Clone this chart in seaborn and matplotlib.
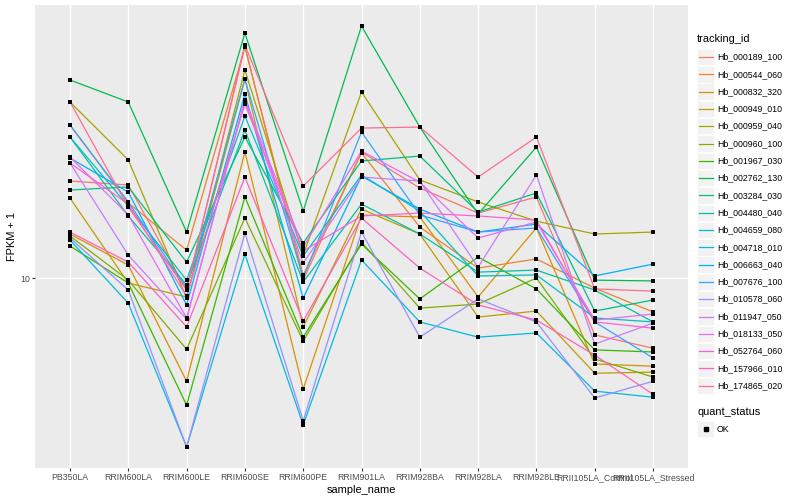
import numpy as np
import pandas as pd
import matplotlib
matplotlib.use("Agg")
import matplotlib.pyplot as plt
import seaborn as sns
from matplotlib.patches import Rectangle
from matplotlib.ticker import NullLocator

# samples on the x axis
samples = ["PB350LA", "RRIM600LA", "RRIM600LE", "RRIM600SE", "RRIM600PE",
           "RRIM901LA", "RRIM928BA", "RRIM928LA", "RRIM928LE",
           "RRII105LA_Control", "RRII105LA_Stressed"]

genes = ["Hb_000189_100", "Hb_000544_060", "Hb_000832_320", "Hb_000949_010",
         "Hb_000959_040", "Hb_000960_100", "Hb_001967_030", "Hb_002762_130",
         "Hb_003284_030", "Hb_004480_040", "Hb_004659_080", "Hb_004718_010",
         "Hb_006663_040", "Hb_007676_100", "Hb_010578_060", "Hb_011947_050",
         "Hb_018133_050", "Hb_052764_060", "Hb_157966_010", "Hb_174865_020"]

# FPKM + 1, one list per gene (same order as samples)
hb_000189_100 = [14.51, 14.29, 9.55, 24.36, 9.92, 16.22, 14.13, 12.83, 13.65, 8.04, 7.64]
hb_000544_060 = [17.99, 13.34, 11.13, 24.27, 10.12, 16.16, 12.16, 10.39, 10.76, 9.62, 8.78]
hb_000832_320 = [11.84, 10.51, 6.73, 16.22, 6.53, 12.74, 12.64, 9.30, 12.12, 7.19, 7.13]
hb_000949_010 = [13.59, 9.81, 9.30, 21.46, 8.29, 13.03, 11.84, 8.61, 8.81, 6.94, 6.97]
hb_000959_040 = [19.65, 15.73, 9.26, 22.22, 10.92, 20.42, 14.57, 13.39, 12.44, 11.84, 11.93]
hb_000960_100 = [11.75, 9.92, 7.61, 12.59, 7.85, 11.48, 8.91, 9.05, 10.00, 7.33, 6.84]
hb_001967_030 = [11.31, 9.81, 6.14, 13.65, 7.97, 11.39, 9.23, 10.84, 9.59, 7.59, 7.53]
hb_002762_130 = [21.38, 19.65, 11.93, 25.60, 12.93, 26.30, 17.85, 12.78, 16.53, 9.92, 9.89]
hb_003284_030 = [14.02, 14.18, 10.63, 17.18, 11.44, 15.67, 15.97, 12.88, 13.86, 8.81, 9.19]
hb_004480_040 = [17.18, 12.69, 9.74, 17.65, 9.85, 13.28, 11.84, 10.23, 10.31, 9.55, 8.45]
hb_004659_080 = [17.18, 13.18, 9.92, 18.62, 10.88, 14.85, 12.93, 10.08, 10.12, 8.58, 8.45]
hb_004718_010 = [11.57, 9.08, 5.23, 10.96, 5.69, 10.72, 8.45, 7.97, 8.10, 6.48, 6.33]
hb_006663_040 = [15.85, 13.91, 9.02, 20.26, 9.26, 14.79, 13.03, 11.93, 12.30, 10.08, 10.55]
hb_007676_100 = [17.99, 13.39, 9.62, 21.46, 10.00, 17.51, 12.74, 11.93, 12.12, 8.45, 7.36]
hb_010578_060 = [11.66, 9.55, 5.23, 11.89, 5.78, 11.93, 7.97, 9.23, 8.45, 6.31, 6.73]
hb_011947_050 = [15.55, 10.92, 8.54, 19.80, 10.59, 14.73, 14.51, 10.43, 14.85, 7.76, 8.41]
hb_018133_050 = [15.91, 12.74, 8.58, 19.80, 11.26, 16.28, 14.45, 11.66, 12.40, 8.51, 8.71]
hb_052764_060 = [15.55, 13.28, 9.33, 19.50, 11.09, 12.69, 12.83, 12.69, 12.49, 8.45, 8.25]
hb_157966_010 = [11.93, 10.63, 8.29, 14.73, 8.48, 12.59, 10.39, 9.02, 8.51, 7.44, 6.40]
hb_174865_020 = [19.65, 13.13, 9.55, 24.45, 14.23, 17.78, 17.85, 14.73, 17.18, 9.59, 9.51]

values = [hb_000189_100, hb_000544_060, hb_000832_320, hb_000949_010, hb_000959_040,
          hb_000960_100, hb_001967_030, hb_002762_130, hb_003284_030, hb_004480_040,
          hb_004659_080, hb_004718_010, hb_006663_040, hb_007676_100, hb_010578_060,
          hb_011947_050, hb_018133_050, hb_052764_060, hb_157966_010, hb_174865_020]

# ggplot default hue palette for 20 levels
hue_colors = ["#F8766D", "#EA8331", "#D89000", "#C09B00", "#A3A500", "#7CAE00",
              "#39B600", "#00BB4E", "#00BF7D", "#00C1A3", "#00BFC4", "#00BAE0",
              "#00B0F6", "#35A2FF", "#9590FF", "#C77CFF", "#E76BF3", "#FA62DB",
              "#FF62BC", "#FF6C91"]
palette = dict(zip(genes, hue_colors))

rows = []
for g, vals in zip(genes, values):
    for s, v in zip(samples, vals):
        rows.append({"tracking_id": g, "sample_name": s, "fpkm": v, "quant_status": "OK"})
df = pd.DataFrame(rows)
df["x"] = df["sample_name"].map({s: i for i, s in enumerate(samples)})

plt.rcParams["font.family"] = ["Liberation Sans", "DejaVu Sans"]

fig = plt.figure(figsize=(8, 5), dpi=100)
ax = fig.add_axes([35 / 800, 32 / 500, 653 / 800, 463 / 500])
ax.set_facecolor("#EBEBEB")
ax.set_yscale("log")

sns.lineplot(data=df, x="x", y="fpkm", hue="tracking_id", palette=palette,
             estimator=None, sort=False, lw=0.9, legend=False, ax=ax, zorder=2)
sns.scatterplot(data=df, x="x", y="fpkm", color="black", marker="s", s=8,
                linewidth=0, legend=False, ax=ax, zorder=3)

# ggplot-like expansion on log scale
lo, hi = np.log10(df["fpkm"].min()), np.log10(df["fpkm"].max())
pad = (hi - lo) * 0.05
ax.set_ylim(10 ** (lo - pad), 10 ** (hi + pad))
ax.set_xlim(-0.6, len(samples) - 0.4)

ax.set_yticks([10])
ax.set_yticklabels(["10"])
ax.yaxis.set_minor_locator(NullLocator())
ax.set_xticks(range(len(samples)))
ax.set_xticklabels(samples)
ax.tick_params(axis="both", length=2, width=0.8, color="#333333",
               labelcolor="#4D4D4D", labelsize=6.3, pad=1.5)

ax.grid(True, color="white", lw=1.0)
ax.set_axisbelow(True)
for sp in ax.spines.values():
    sp.set_visible(False)

ax.set_xlabel("sample_name", fontsize=7.9, labelpad=2)
ax.set_ylabel("FPKM + 1", fontsize=7.9, labelpad=2)

# legend drawn in pixel space, ggplot style
lax = fig.add_axes([0, 0, 1, 1], zorder=-1)
lax.set_xlim(0, 800)
lax.set_ylim(500, 0)
lax.axis("off")
lax.text(697, 39, "tracking_id", fontsize=7.9, va="center", ha="left")
for i, g in enumerate(genes):
    yc = 57 + i * 17.3
    lax.add_patch(Rectangle((697, yc - 8.2), 17, 16.4, fc="#F2F2F2", ec="white", lw=0.5))
    lax.plot([698.5, 712.5], [yc, yc], color=palette[g], lw=0.9)
    lax.text(717, yc, g, fontsize=6.3, va="center", ha="left")

lax.text(697, 412, "quant_status", fontsize=7.9, va="center", ha="left")
lax.add_patch(Rectangle((697, 429 - 8.2), 17, 16.4, fc="#F2F2F2", ec="white", lw=0.5))
lax.plot([705.5], [429], marker="s", color="black", ms=2.6, lw=0)
lax.text(717, 429, "OK", fontsize=6.3, va="center", ha="left")

fig.savefig("out.png", dpi=100)
